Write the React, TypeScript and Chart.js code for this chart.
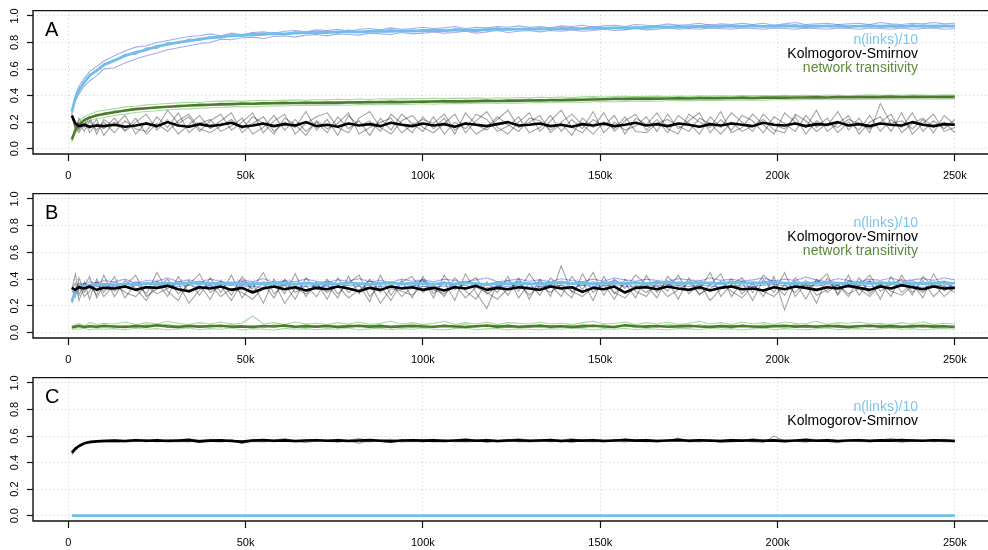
import React, { useEffect, useRef } from 'react';
import { Chart, registerables } from 'chart.js';

Chart.register(...registerables);

// ---------- shared sample steps ----------
const X = [
  1000, 2000, 3000, 4500, 6000, 8000, 10000,
  13000, 16000, 19000, 22000, 25000, 28000, 31000, 34000, 37000, 40000,
  43000, 46000, 49000, 52000, 55000, 58000, 61000, 64000, 67000, 70000,
  73000, 76000, 79000, 82000, 85000, 88000, 91000, 94000, 97000, 100000,
  103000, 106000, 109000, 112000, 115000, 118000, 121000, 124000, 127000, 130000,
  133000, 136000, 139000, 142000, 145000, 148000, 151000, 154000, 157000, 160000,
  163000, 166000, 169000, 172000, 175000, 178000, 181000, 184000, 187000, 190000,
  193000, 196000, 199000, 202000, 205000, 208000, 211000, 214000, 217000, 220000,
  223000, 226000, 229000, 232000, 235000, 238000, 241000, 244000, 247000, 250000,
];

const X_TICKS = [0, 50000, 100000, 150000, 200000, 250000];
const X_TICK_LABELS = ['0', '50k', '100k', '150k', '200k', '250k'];
const Y_TICKS = [0, 0.2, 0.4, 0.6, 0.8, 1.0];
const X_MIN = -9955;
const X_MAX = 259360;
const Y_MIN = -0.04;
const Y_MAX = 1.04;

const LABEL_LINKS = 'n(links)/10';
const LABEL_KS = 'Kolmogorov-Smirnov';
const LABEL_TRANS = 'network transitivity';

// ---------- panel A ----------
const A_LINKS = [
  0.28, 0.38, 0.44, 0.50, 0.55, 0.59, 0.63,
  0.665, 0.70, 0.725, 0.745, 0.77, 0.785, 0.80, 0.812, 0.825, 0.835,
  0.842, 0.85, 0.853, 0.858, 0.862, 0.866, 0.864, 0.87, 0.874, 0.877,
  0.875, 0.88, 0.882, 0.879, 0.884, 0.886, 0.884, 0.888, 0.886, 0.89,
  0.892, 0.889, 0.893, 0.895, 0.893, 0.897, 0.9, 0.898, 0.9, 0.902,
  0.9, 0.904, 0.902, 0.906, 0.905, 0.908, 0.906, 0.91, 0.912, 0.91,
  0.914, 0.916, 0.918, 0.916, 0.92, 0.922, 0.918, 0.921, 0.924, 0.922,
  0.925, 0.921, 0.923, 0.926, 0.922, 0.924, 0.921, 0.925, 0.923, 0.92,
  0.923, 0.925, 0.922, 0.924, 0.921, 0.923, 0.925, 0.922, 0.924, 0.923,
];
const A_LINKS_R1 = [
  0.27, 0.40, 0.47, 0.53, 0.58, 0.62, 0.66,
  0.70, 0.735, 0.765, 0.775, 0.80, 0.815, 0.83, 0.845, 0.85, 0.865,
  0.85, 0.87, 0.86, 0.875, 0.88, 0.87, 0.885, 0.89, 0.88, 0.895,
  0.89, 0.9, 0.885, 0.9, 0.905, 0.895, 0.91, 0.9, 0.905, 0.915,
  0.905, 0.91, 0.92, 0.905, 0.915, 0.91, 0.92, 0.915, 0.925, 0.915,
  0.92, 0.91, 0.925, 0.92, 0.93, 0.915, 0.925, 0.93, 0.92, 0.935,
  0.93, 0.925, 0.94, 0.93, 0.935, 0.945, 0.93, 0.94, 0.935, 0.945,
  0.935, 0.945, 0.93, 0.94, 0.95, 0.935, 0.94, 0.945, 0.935, 0.94,
  0.945, 0.935, 0.95, 0.94, 0.935, 0.945, 0.94, 0.95, 0.94, 0.945,
];
const A_LINKS_R2 = [
  0.29, 0.36, 0.41, 0.47, 0.51, 0.55, 0.60,
  0.61, 0.645, 0.675, 0.70, 0.72, 0.745, 0.76, 0.775, 0.79, 0.80,
  0.825, 0.82, 0.835, 0.84, 0.83, 0.845, 0.85, 0.84, 0.855, 0.86,
  0.85, 0.865, 0.86, 0.855, 0.87, 0.865, 0.86, 0.875, 0.865, 0.87,
  0.88, 0.87, 0.875, 0.885, 0.87, 0.88, 0.89, 0.875, 0.885, 0.89,
  0.88, 0.89, 0.885, 0.895, 0.885, 0.89, 0.9, 0.89, 0.895, 0.905,
  0.895, 0.9, 0.91, 0.9, 0.905, 0.9, 0.91, 0.905, 0.9, 0.91,
  0.905, 0.9, 0.91, 0.905, 0.9, 0.91, 0.905, 0.9, 0.91, 0.905,
  0.9, 0.91, 0.905, 0.9, 0.91, 0.9, 0.905, 0.91, 0.9, 0.905,
];
const A_LINKS_R3 = [
  0.26, 0.39, 0.45, 0.49, 0.56, 0.58, 0.64,
  0.66, 0.71, 0.71, 0.76, 0.755, 0.80, 0.79, 0.825, 0.815, 0.845,
  0.835, 0.86, 0.845, 0.87, 0.855, 0.875, 0.86, 0.88, 0.87, 0.865,
  0.885, 0.87, 0.895, 0.875, 0.89, 0.88, 0.9, 0.885, 0.895, 0.88,
  0.9, 0.885, 0.905, 0.895, 0.88, 0.9, 0.91, 0.895, 0.905, 0.9,
  0.91, 0.895, 0.915, 0.905, 0.9, 0.92, 0.905, 0.915, 0.9, 0.92,
  0.91, 0.925, 0.915, 0.93, 0.91, 0.925, 0.935, 0.915, 0.93, 0.92,
  0.935, 0.915, 0.93, 0.92, 0.935, 0.91, 0.93, 0.92, 0.935, 0.915,
  0.925, 0.935, 0.915, 0.93, 0.92, 0.935, 0.915, 0.93, 0.925, 0.93,
];
const A_TRANS = [
  0.07, 0.14, 0.18, 0.215, 0.235, 0.25, 0.262,
  0.275, 0.288, 0.298, 0.305, 0.31, 0.316, 0.32, 0.325, 0.328, 0.331,
  0.334, 0.336, 0.338, 0.339, 0.341, 0.342, 0.343, 0.344, 0.345, 0.346,
  0.345, 0.347, 0.348, 0.349, 0.35, 0.351, 0.352, 0.351, 0.353, 0.354,
  0.355, 0.356, 0.357, 0.356, 0.358, 0.36, 0.359, 0.361, 0.362, 0.363,
  0.364, 0.365, 0.366, 0.367, 0.369, 0.37, 0.372, 0.374, 0.375, 0.376,
  0.377, 0.376, 0.378, 0.379, 0.378, 0.38, 0.381, 0.38, 0.382, 0.383,
  0.382, 0.384, 0.385, 0.384, 0.386, 0.385, 0.387, 0.386, 0.388, 0.387,
  0.388, 0.389, 0.388, 0.39, 0.389, 0.391, 0.39, 0.389, 0.391, 0.39,
];
const A_TRANS_R1 = [
  0.05, 0.16, 0.21, 0.24, 0.26, 0.28, 0.29,
  0.30, 0.315, 0.32, 0.33, 0.335, 0.34, 0.345, 0.35, 0.348, 0.355,
  0.358, 0.36, 0.356, 0.362, 0.365, 0.36, 0.366, 0.368, 0.364, 0.37,
  0.368, 0.372, 0.37, 0.374, 0.371, 0.376, 0.373, 0.377, 0.375, 0.378,
  0.38, 0.377, 0.381, 0.379, 0.383, 0.38, 0.384, 0.382, 0.386, 0.383,
  0.387, 0.385, 0.389, 0.386, 0.39, 0.392, 0.388, 0.393, 0.395, 0.391,
  0.394, 0.396, 0.393, 0.397, 0.395, 0.398, 0.396, 0.399, 0.397, 0.4,
  0.398, 0.401, 0.399, 0.402, 0.4, 0.403, 0.401, 0.404, 0.402, 0.401,
  0.403, 0.405, 0.402, 0.404, 0.403, 0.406, 0.404, 0.402, 0.405, 0.404,
];
const A_TRANS_R2 = [
  0.09, 0.12, 0.15, 0.19, 0.21, 0.225, 0.235,
  0.25, 0.26, 0.272, 0.28, 0.286, 0.293, 0.297, 0.3, 0.305, 0.309,
  0.312, 0.315, 0.318, 0.316, 0.32, 0.323, 0.321, 0.325, 0.327, 0.325,
  0.328, 0.33, 0.327, 0.332, 0.334, 0.331, 0.335, 0.333, 0.336, 0.338,
  0.336, 0.339, 0.341, 0.338, 0.342, 0.344, 0.341, 0.345, 0.343, 0.346,
  0.348, 0.346, 0.35, 0.352, 0.349, 0.353, 0.355, 0.352, 0.356, 0.358,
  0.36, 0.357, 0.361, 0.363, 0.36, 0.364, 0.366, 0.363, 0.367, 0.365,
  0.368, 0.366, 0.369, 0.371, 0.368, 0.37, 0.372, 0.369, 0.371, 0.373,
  0.371, 0.374, 0.372, 0.375, 0.373, 0.376, 0.374, 0.372, 0.375, 0.374,
];
const A_TRANS_R3 = [
  0.06, 0.15, 0.17, 0.22, 0.23, 0.26, 0.255,
  0.285, 0.28, 0.305, 0.3, 0.32, 0.31, 0.33, 0.322, 0.338, 0.33,
  0.345, 0.333, 0.35, 0.34, 0.352, 0.345, 0.355, 0.34, 0.353, 0.348,
  0.356, 0.345, 0.358, 0.352, 0.36, 0.348, 0.362, 0.355, 0.35, 0.364,
  0.358, 0.366, 0.352, 0.368, 0.36, 0.37, 0.356, 0.372, 0.365, 0.374,
  0.362, 0.376, 0.37, 0.38, 0.372, 0.384, 0.376, 0.386, 0.38, 0.39,
  0.382, 0.388, 0.376, 0.39, 0.385, 0.393, 0.38, 0.392, 0.386, 0.395,
  0.384, 0.394, 0.388, 0.396, 0.382, 0.392, 0.398, 0.386, 0.395, 0.39,
  0.397, 0.385, 0.394, 0.4, 0.388, 0.396, 0.391, 0.398, 0.387, 0.395,
];
const A_KS = [
  0.25, 0.19, 0.17, 0.18, 0.165, 0.175, 0.17,
  0.18, 0.165, 0.175, 0.19, 0.17, 0.2, 0.175, 0.165, 0.185, 0.17,
  0.18, 0.195, 0.165, 0.175, 0.19, 0.17, 0.185, 0.175, 0.2, 0.17,
  0.18, 0.165, 0.19, 0.175, 0.185, 0.17, 0.195, 0.18, 0.17, 0.19,
  0.175, 0.185, 0.165, 0.19, 0.18, 0.17, 0.185, 0.2, 0.175, 0.18,
  0.19, 0.17, 0.18, 0.165, 0.185, 0.175, 0.19, 0.17, 0.18, 0.195,
  0.175, 0.185, 0.17, 0.19, 0.18, 0.165, 0.185, 0.175, 0.19, 0.18,
  0.17, 0.195, 0.18, 0.175, 0.19, 0.17, 0.185, 0.18, 0.2, 0.175,
  0.185, 0.17, 0.19, 0.18, 0.175, 0.2, 0.18, 0.17, 0.185, 0.18,
];
const A_KS_R1 = [
  0.24, 0.2, 0.14, 0.22, 0.12, 0.19, 0.15,
  0.23, 0.13, 0.2, 0.26, 0.14, 0.22, 0.11, 0.18, 0.25, 0.15,
  0.21, 0.27, 0.12, 0.19, 0.24, 0.13, 0.2, 0.16, 0.28, 0.14,
  0.22, 0.1, 0.25, 0.17, 0.21, 0.13, 0.26, 0.19, 0.12, 0.24,
  0.15, 0.23, 0.11, 0.27, 0.18, 0.14, 0.22, 0.29, 0.16, 0.2,
  0.25, 0.12, 0.19, 0.1, 0.23, 0.16, 0.27, 0.13, 0.21, 0.26,
  0.14, 0.22, 0.12, 0.25, 0.19, 0.11, 0.24, 0.16, 0.27, 0.2,
  0.13, 0.26, 0.18, 0.15, 0.24, 0.11, 0.21, 0.17, 0.28, 0.14,
  0.23, 0.12, 0.34, 0.19, 0.21, 0.15, 0.22, 0.12, 0.25, 0.18,
];
const A_KS_R2 = [
  0.26, 0.17, 0.2, 0.13, 0.21, 0.14, 0.2,
  0.12, 0.21, 0.15, 0.13, 0.24, 0.16, 0.27, 0.12, 0.19, 0.22,
  0.13, 0.17, 0.23, 0.11, 0.16, 0.25, 0.14, 0.22, 0.13, 0.2,
  0.12, 0.24, 0.15, 0.21, 0.1, 0.23, 0.14, 0.26, 0.19, 0.13,
  0.24, 0.11, 0.2, 0.15, 0.26, 0.22, 0.13, 0.17, 0.24, 0.12,
  0.16, 0.25, 0.13, 0.22, 0.15, 0.28, 0.12, 0.2, 0.14, 0.17,
  0.24, 0.13, 0.26, 0.15, 0.21, 0.27, 0.12, 0.22, 0.14, 0.25,
  0.21, 0.12, 0.24, 0.19, 0.13, 0.25, 0.16, 0.23, 0.12, 0.2,
  0.14, 0.25, 0.13, 0.22, 0.16, 0.27, 0.13, 0.21, 0.15, 0.22,
];
const A_KS_R3 = [
  0.25, 0.14, 0.23, 0.16, 0.24, 0.11, 0.22,
  0.17, 0.25, 0.11, 0.2, 0.16, 0.29, 0.19, 0.24, 0.13, 0.21,
  0.26, 0.14, 0.2, 0.27, 0.12, 0.21, 0.26, 0.11, 0.19, 0.24,
  0.27, 0.16, 0.12, 0.23, 0.28, 0.16, 0.11, 0.21, 0.25, 0.16,
  0.12, 0.19, 0.26, 0.12, 0.21, 0.28, 0.16, 0.11, 0.2, 0.27,
  0.13, 0.21, 0.29, 0.16, 0.12, 0.22, 0.17, 0.25, 0.11, 0.23,
  0.18, 0.27, 0.15, 0.11, 0.26, 0.2, 0.16, 0.28, 0.12, 0.16,
  0.26, 0.18, 0.11, 0.27, 0.2, 0.16, 0.29, 0.13, 0.19, 0.25,
  0.11, 0.2, 0.24, 0.13, 0.27, 0.11, 0.19, 0.26, 0.13, 0.16,
];
const A_KS_R4 = [
  0.23, 0.16, 0.12, 0.19, 0.15, 0.22, 0.1,
  0.2, 0.14, 0.23, 0.11, 0.19, 0.13, 0.21, 0.26, 0.15, 0.12,
  0.17, 0.22, 0.15, 0.24, 0.19, 0.11, 0.23, 0.18, 0.1, 0.21,
  0.15, 0.19, 0.27, 0.11, 0.16, 0.2, 0.23, 0.12, 0.18, 0.22,
  0.19, 0.26, 0.14, 0.2, 0.11, 0.16, 0.24, 0.18, 0.13, 0.23,
  0.21, 0.14, 0.2, 0.26, 0.18, 0.11, 0.2, 0.15, 0.24, 0.13,
  0.12, 0.19, 0.22, 0.17, 0.13, 0.23, 0.19, 0.11, 0.2, 0.13,
  0.17, 0.22, 0.14, 0.12, 0.26, 0.21, 0.13, 0.19, 0.16, 0.22,
  0.19, 0.15, 0.2, 0.26, 0.12, 0.19, 0.23, 0.16, 0.2, 0.12,
];

// ---------- panel B ----------
const B_LINKS = [
  0.235, 0.31, 0.34, 0.35, 0.355, 0.36, 0.362,
  0.358, 0.365, 0.36, 0.368, 0.362, 0.37, 0.365, 0.372, 0.366, 0.37,
  0.365, 0.372, 0.36, 0.368, 0.363, 0.37, 0.366, 0.362, 0.371, 0.365,
  0.369, 0.363, 0.372, 0.366, 0.36, 0.368, 0.372, 0.364, 0.37, 0.366,
  0.362, 0.37, 0.365, 0.373, 0.366, 0.36, 0.369, 0.364, 0.371, 0.367,
  0.363, 0.37, 0.375, 0.366, 0.372, 0.364, 0.37, 0.374, 0.368, 0.373,
  0.366, 0.372, 0.376, 0.369, 0.374, 0.368, 0.372, 0.366, 0.375, 0.37,
  0.374, 0.368, 0.377, 0.371, 0.366, 0.373, 0.369, 0.376, 0.37, 0.365,
  0.372, 0.367, 0.374, 0.369, 0.365, 0.371, 0.366, 0.373, 0.368, 0.37,
];
const B_LINKS_R1 = [
  0.24, 0.33, 0.37, 0.36, 0.38, 0.37, 0.39,
  0.38, 0.4, 0.37, 0.39, 0.385, 0.41, 0.38, 0.395, 0.375, 0.4,
  0.385, 0.37, 0.395, 0.38, 0.405, 0.375, 0.39, 0.38, 0.4, 0.385,
  0.375, 0.395, 0.385, 0.405, 0.38, 0.39, 0.375, 0.4, 0.385, 0.395,
  0.38, 0.4, 0.39, 0.375, 0.395, 0.41, 0.38, 0.39, 0.4, 0.385,
  0.395, 0.38, 0.405, 0.39, 0.38, 0.4, 0.385, 0.41, 0.395, 0.385,
  0.4, 0.39, 0.38, 0.405, 0.395, 0.385, 0.41, 0.39, 0.4, 0.385,
  0.395, 0.41, 0.385, 0.4, 0.39, 0.415, 0.395, 0.38, 0.405, 0.39,
  0.38, 0.4, 0.39, 0.41, 0.385, 0.395, 0.405, 0.39, 0.41, 0.395,
];
const B_LINKS_R2 = [
  0.23, 0.29, 0.32, 0.34, 0.33, 0.345, 0.34,
  0.35, 0.34, 0.355, 0.345, 0.335, 0.35, 0.345, 0.355, 0.34, 0.35,
  0.345, 0.355, 0.34, 0.35, 0.335, 0.345, 0.355, 0.34, 0.35, 0.345,
  0.35, 0.34, 0.355, 0.345, 0.335, 0.35, 0.345, 0.34, 0.355, 0.345,
  0.34, 0.35, 0.345, 0.355, 0.34, 0.335, 0.35, 0.345, 0.355, 0.34,
  0.345, 0.355, 0.35, 0.34, 0.355, 0.345, 0.35, 0.36, 0.345, 0.35,
  0.355, 0.345, 0.36, 0.35, 0.345, 0.355, 0.35, 0.34, 0.355, 0.35,
  0.345, 0.355, 0.36, 0.35, 0.345, 0.355, 0.35, 0.36, 0.345, 0.34,
  0.355, 0.345, 0.35, 0.36, 0.345, 0.35, 0.34, 0.355, 0.35, 0.345,
];
const B_LINKS_R3 = [
  0.22, 0.32, 0.35, 0.37, 0.35, 0.375, 0.355,
  0.375, 0.355, 0.38, 0.36, 0.385, 0.355, 0.38, 0.36, 0.385, 0.365,
  0.38, 0.355, 0.385, 0.36, 0.38, 0.365, 0.385, 0.355, 0.375, 0.36,
  0.385, 0.36, 0.375, 0.355, 0.385, 0.365, 0.38, 0.36, 0.375, 0.385,
  0.36, 0.38, 0.355, 0.385, 0.37, 0.355, 0.38, 0.365, 0.385, 0.36,
  0.38, 0.36, 0.385, 0.37, 0.355, 0.38, 0.365, 0.39, 0.36, 0.38,
  0.365, 0.385, 0.36, 0.38, 0.37, 0.39, 0.36, 0.38, 0.365, 0.385,
  0.36, 0.38, 0.39, 0.365, 0.38, 0.36, 0.385, 0.37, 0.355, 0.38,
  0.37, 0.385, 0.36, 0.38, 0.365, 0.39, 0.36, 0.375, 0.385, 0.365,
];
const B_KS = [
  0.335, 0.32, 0.34, 0.33, 0.345, 0.32, 0.335,
  0.33, 0.345, 0.32, 0.34, 0.335, 0.35, 0.325, 0.31, 0.34, 0.33,
  0.345, 0.32, 0.335, 0.3, 0.33, 0.345, 0.325, 0.34, 0.315, 0.335,
  0.325, 0.345, 0.33, 0.31, 0.335, 0.32, 0.345, 0.33, 0.34, 0.32,
  0.335, 0.315, 0.34, 0.33, 0.35, 0.32, 0.335, 0.325, 0.34, 0.33,
  0.32, 0.345, 0.33, 0.34, 0.305, 0.335, 0.325, 0.345, 0.3, 0.335,
  0.34, 0.325, 0.345, 0.33, 0.32, 0.34, 0.315, 0.335, 0.345, 0.325,
  0.33, 0.315, 0.34, 0.325, 0.345, 0.335, 0.32, 0.34, 0.33, 0.35,
  0.335, 0.32, 0.345, 0.33, 0.355, 0.34, 0.325, 0.345, 0.33, 0.335,
];
const B_KS_R1 = [
  0.32, 0.44, 0.28, 0.38, 0.25, 0.4, 0.3,
  0.42, 0.26, 0.37, 0.29, 0.45, 0.31, 0.24, 0.39, 0.28, 0.41,
  0.3, 0.43, 0.26, 0.37, 0.22, 0.4, 0.29, 0.44, 0.27, 0.38,
  0.25, 0.41, 0.3, 0.36, 0.23, 0.43, 0.28, 0.39, 0.26, 0.42,
  0.29, 0.38, 0.24, 0.44, 0.3, 0.18, 0.37, 0.28, 0.41, 0.25,
  0.4, 0.27, 0.5, 0.3, 0.38, 0.24, 0.42, 0.29, 0.37, 0.26,
  0.43, 0.3, 0.39, 0.25, 0.41, 0.28, 0.36, 0.44, 0.27, 0.38,
  0.24, 0.4, 0.3, 0.45, 0.27, 0.37, 0.22, 0.41, 0.29, 0.43,
  0.28, 0.39, 0.25, 0.42, 0.3, 0.37, 0.26, 0.44, 0.31, 0.38,
];
const B_KS_R2 = [
  0.34, 0.27, 0.41, 0.3, 0.36, 0.28, 0.43,
  0.27, 0.39, 0.33, 0.24, 0.38, 0.27, 0.42, 0.3, 0.36, 0.25,
  0.39, 0.28, 0.42, 0.31, 0.37, 0.26, 0.4, 0.3, 0.35, 0.27,
  0.4, 0.29, 0.37, 0.43, 0.27, 0.35, 0.24, 0.38, 0.42, 0.3,
  0.36, 0.27, 0.41, 0.31, 0.25, 0.38, 0.3, 0.42, 0.26, 0.37,
  0.28, 0.41, 0.33, 0.26, 0.44, 0.3, 0.36, 0.25, 0.4, 0.31,
  0.27, 0.38, 0.31, 0.43, 0.29, 0.37, 0.24, 0.33, 0.4, 0.29,
  0.37, 0.27, 0.42, 0.17, 0.38, 0.25, 0.4, 0.3, 0.36, 0.27,
  0.41, 0.29, 0.37, 0.27, 0.43, 0.3, 0.39, 0.27, 0.35, 0.3,
];
const B_KS_R3 = [
  0.33, 0.37, 0.24, 0.35, 0.42, 0.26, 0.36,
  0.31, 0.35, 0.43, 0.27, 0.33, 0.4, 0.29, 0.36, 0.44, 0.3,
  0.35, 0.24, 0.38, 0.33, 0.45, 0.29, 0.36, 0.25, 0.41, 0.32,
  0.36, 0.26, 0.42, 0.29, 0.4, 0.3, 0.37, 0.27, 0.34, 0.4,
  0.26, 0.43, 0.32, 0.37, 0.41, 0.29, 0.34, 0.39, 0.31, 0.44,
  0.33, 0.36, 0.27, 0.42, 0.32, 0.45, 0.28, 0.4, 0.33, 0.43,
  0.36, 0.26, 0.42, 0.35, 0.38, 0.32, 0.45, 0.27, 0.36, 0.41,
  0.3, 0.43, 0.36, 0.28, 0.41, 0.33, 0.37, 0.44, 0.28, 0.39,
  0.35, 0.43, 0.31, 0.36, 0.4, 0.28, 0.42, 0.34, 0.38, 0.33,
];
const B_KS_R4 = [
  0.31, 0.29, 0.36, 0.27, 0.31, 0.38, 0.27,
  0.36, 0.3, 0.27, 0.35, 0.29, 0.33, 0.37, 0.22, 0.32, 0.36,
  0.27, 0.33, 0.3, 0.25, 0.34, 0.38, 0.22, 0.33, 0.29, 0.36,
  0.3, 0.35, 0.26, 0.32, 0.37, 0.22, 0.33, 0.31, 0.28, 0.35,
  0.32, 0.29, 0.36, 0.26, 0.34, 0.3, 0.25, 0.33, 0.37, 0.28,
  0.35, 0.3, 0.36, 0.31, 0.27, 0.34, 0.38, 0.3, 0.26, 0.35,
  0.3, 0.36, 0.27, 0.32, 0.37, 0.29, 0.33, 0.38, 0.31, 0.26,
  0.35, 0.31, 0.27, 0.36, 0.3, 0.39, 0.28, 0.32, 0.36, 0.29,
  0.33, 0.27, 0.36, 0.31, 0.28, 0.35, 0.3, 0.37, 0.27, 0.34,
];
const B_TRANS = [
  0.04, 0.045, 0.05, 0.042, 0.048, 0.044, 0.05,
  0.046, 0.042, 0.05, 0.045, 0.055, 0.047, 0.043, 0.05, 0.045, 0.048,
  0.052, 0.044, 0.047, 0.042, 0.05, 0.046, 0.053, 0.044, 0.048, 0.045,
  0.05, 0.043, 0.047, 0.052, 0.045, 0.049, 0.043, 0.047, 0.051, 0.046,
  0.044, 0.05, 0.046, 0.042, 0.048, 0.053, 0.045, 0.049, 0.044, 0.047,
  0.051, 0.045, 0.048, 0.043, 0.047, 0.052, 0.046, 0.042, 0.055, 0.048,
  0.045, 0.05, 0.044, 0.047, 0.052, 0.046, 0.043, 0.049, 0.045, 0.05,
  0.046, 0.043, 0.048, 0.052, 0.045, 0.049, 0.044, 0.05, 0.047, 0.043,
  0.048, 0.052, 0.045, 0.049, 0.044, 0.047, 0.051, 0.045, 0.048, 0.042,
];
const B_TRANS_R1 = [
  0.03, 0.06, 0.07, 0.05, 0.075, 0.06, 0.07,
  0.065, 0.08, 0.06, 0.075, 0.065, 0.085, 0.07, 0.06, 0.075, 0.065,
  0.08, 0.065, 0.07, 0.125, 0.065, 0.075, 0.06, 0.08, 0.065, 0.07,
  0.06, 0.075, 0.065, 0.08, 0.06, 0.07, 0.085, 0.065, 0.075, 0.06,
  0.07, 0.085, 0.06, 0.075, 0.065, 0.08, 0.06, 0.075, 0.07, 0.065,
  0.08, 0.065, 0.07, 0.06, 0.075, 0.085, 0.065, 0.07, 0.08, 0.06,
  0.075, 0.065, 0.08, 0.06, 0.07, 0.085, 0.065, 0.075, 0.06, 0.08,
  0.065, 0.075, 0.06, 0.08, 0.07, 0.065, 0.085, 0.06, 0.075, 0.07,
  0.08, 0.065, 0.07, 0.06, 0.075, 0.065, 0.08, 0.06, 0.07, 0.065,
];
const B_TRANS_R2 = [
  0.02, 0.03, 0.025, 0.035, 0.02, 0.03, 0.025,
  0.03, 0.02, 0.035, 0.025, 0.03, 0.02, 0.028, 0.035, 0.022, 0.03,
  0.025, 0.035, 0.02, 0.03, 0.025, 0.018, 0.032, 0.025, 0.03, 0.022,
  0.03, 0.025, 0.035, 0.02, 0.028, 0.032, 0.022, 0.03, 0.025, 0.035,
  0.025, 0.02, 0.03, 0.035, 0.022, 0.028, 0.032, 0.02, 0.03, 0.025,
  0.02, 0.03, 0.025, 0.035, 0.028, 0.02, 0.03, 0.025, 0.032, 0.022,
  0.03, 0.025, 0.02, 0.032, 0.028, 0.022, 0.035, 0.025, 0.03, 0.02,
  0.028, 0.035, 0.022, 0.03, 0.025, 0.02, 0.03, 0.035, 0.022, 0.028,
  0.03, 0.022, 0.028, 0.035, 0.025, 0.03, 0.02, 0.028, 0.032, 0.025,
];
const B_TRANS_R3 = [
  0.05, 0.04, 0.06, 0.035, 0.055, 0.04, 0.06,
  0.04, 0.055, 0.035, 0.06, 0.045, 0.065, 0.04, 0.055, 0.035, 0.06,
  0.045, 0.06, 0.04, 0.055, 0.035, 0.06, 0.045, 0.035, 0.065, 0.04,
  0.055, 0.035, 0.06, 0.045, 0.04, 0.065, 0.035, 0.055, 0.04, 0.06,
  0.035, 0.06, 0.045, 0.065, 0.04, 0.055, 0.035, 0.06, 0.045, 0.04,
  0.06, 0.04, 0.055, 0.035, 0.065, 0.045, 0.06, 0.04, 0.055, 0.035,
  0.055, 0.04, 0.065, 0.045, 0.035, 0.06, 0.045, 0.055, 0.035, 0.06,
  0.04, 0.06, 0.045, 0.035, 0.065, 0.04, 0.055, 0.045, 0.06, 0.035,
  0.055, 0.04, 0.06, 0.045, 0.035, 0.06, 0.04, 0.055, 0.045, 0.05,
];

// ---------- panel C ----------
const C_KS = [
  0.475, 0.505, 0.525, 0.545, 0.555, 0.56, 0.562,
  0.565, 0.563, 0.568, 0.564, 0.567, 0.562, 0.566, 0.569, 0.56, 0.565,
  0.567, 0.563, 0.558, 0.566, 0.569, 0.564, 0.567, 0.563, 0.566, 0.568,
  0.564, 0.567, 0.562, 0.566, 0.569, 0.564, 0.56, 0.566, 0.568, 0.565,
  0.567, 0.563, 0.566, 0.569, 0.564, 0.567, 0.562, 0.566, 0.568, 0.564,
  0.566, 0.569, 0.563, 0.567, 0.565, 0.568, 0.563, 0.566, 0.57, 0.565,
  0.567, 0.563, 0.566, 0.569, 0.564, 0.568, 0.565, 0.562, 0.567, 0.565,
  0.568, 0.564, 0.567, 0.561, 0.566, 0.569, 0.564, 0.567, 0.563, 0.566,
  0.568, 0.564, 0.567, 0.565, 0.569, 0.566, 0.564, 0.568, 0.566, 0.563,
];
const C_KS_R1 = [
  0.46, 0.49, 0.52, 0.54, 0.545, 0.555, 0.56,
  0.555, 0.56, 0.57, 0.555, 0.575, 0.56, 0.555, 0.565, 0.55, 0.57,
  0.56, 0.575, 0.545, 0.56, 0.57, 0.555, 0.575, 0.56, 0.55, 0.565,
  0.57, 0.555, 0.565, 0.545, 0.57, 0.56, 0.55, 0.575, 0.56, 0.555,
  0.565, 0.575, 0.555, 0.56, 0.57, 0.55, 0.565, 0.575, 0.555, 0.56,
  0.575, 0.555, 0.565, 0.55, 0.57, 0.56, 0.555, 0.575, 0.56, 0.565,
  0.555, 0.57, 0.56, 0.585, 0.555, 0.565, 0.57, 0.55, 0.56, 0.57,
  0.56, 0.55, 0.6, 0.56, 0.565, 0.555, 0.57, 0.56, 0.55, 0.565,
  0.57, 0.555, 0.565, 0.575, 0.555, 0.56, 0.57, 0.555, 0.565, 0.555,
];
const C_KS_R2 = [
  0.49, 0.5, 0.53, 0.55, 0.56, 0.565, 0.57,
  0.57, 0.565, 0.575, 0.57, 0.56, 0.575, 0.57, 0.58, 0.565, 0.575,
  0.57, 0.56, 0.545, 0.575, 0.565, 0.57, 0.58, 0.565, 0.57, 0.575,
  0.565, 0.575, 0.57, 0.58, 0.565, 0.57, 0.575, 0.56, 0.575, 0.57,
  0.575, 0.565, 0.57, 0.58, 0.57, 0.575, 0.565, 0.57, 0.58, 0.57,
  0.565, 0.575, 0.57, 0.58, 0.565, 0.575, 0.57, 0.565, 0.58, 0.57,
  0.575, 0.565, 0.57, 0.58, 0.57, 0.575, 0.565, 0.57, 0.575, 0.565,
  0.58, 0.57, 0.575, 0.565, 0.57, 0.58, 0.57, 0.575, 0.565, 0.57,
  0.575, 0.565, 0.57, 0.58, 0.57, 0.575, 0.565, 0.57, 0.575, 0.57,
];
const C_KS_R3 = [
  0.47, 0.51, 0.52, 0.545, 0.55, 0.56, 0.555,
  0.565, 0.555, 0.56, 0.57, 0.555, 0.565, 0.56, 0.555, 0.57, 0.56,
  0.555, 0.565, 0.55, 0.56, 0.555, 0.565, 0.56, 0.555, 0.565, 0.57,
  0.56, 0.555, 0.565, 0.56, 0.555, 0.565, 0.57, 0.555, 0.56, 0.565,
  0.555, 0.56, 0.565, 0.555, 0.56, 0.57, 0.555, 0.56, 0.565, 0.555,
  0.56, 0.565, 0.555, 0.57, 0.56, 0.555, 0.565, 0.56, 0.555, 0.565,
  0.56, 0.555, 0.565, 0.57, 0.56, 0.555, 0.565, 0.56, 0.555, 0.565,
  0.555, 0.565, 0.56, 0.575, 0.56, 0.555, 0.565, 0.56, 0.555, 0.565,
  0.56, 0.555, 0.565, 0.56, 0.555, 0.565, 0.56, 0.57, 0.555, 0.56,
];
const C_LINKS_X = [1000, 250000];
const C_LINKS = [0, 0];

// ---------- styling ----------
const FONT = "'Liberation Sans', Arial, Helvetica, sans-serif";
const COL_LINKS = '#70bfea';
const COL_LINKS_REP = 'rgba(72, 92, 215, 0.5)';
const COL_KS = '#000000';
const COL_KS_REP = 'rgba(0, 0, 0, 0.36)';
const COL_TRANS = '#4e7b2b';
const COL_TRANS_REP = 'rgba(80, 180, 70, 0.5)';
const COL_LEG_LINKS = '#7cc5ee';
const COL_LEG_TRANS = '#5c8a3b';
const GRID_COLOR = '#cfcfcf';

function pts(xs: number[], ys: number[]) {
  return xs.map((x, i) => ({ x, y: ys[i] }));
}

function mean(label: string, ys: number[], color: string, width = 2.6, xs = X) {
  return {
    label,
    data: pts(xs, ys),
    borderColor: color,
    borderWidth: width,
    pointRadius: 0,
    tension: 0,
    fill: false,
    borderJoinStyle: 'round' as const,
  };
}
function rep(ys: number[], color: string) {
  return {
    label: '',
    data: pts(X, ys),
    borderColor: color,
    borderWidth: 1.1,
    pointRadius: 0,
    tension: 0,
    fill: false,
  };
}

const boxPlugin = {
  id: 'rbox',
  afterDatasetsDraw(chart: any) {
    const { ctx, chartArea: a } = chart;
    ctx.save();
    ctx.strokeStyle = '#111';
    ctx.lineWidth = 1.4;
    ctx.beginPath();
    ctx.moveTo(a.right + 2, a.top);
    ctx.lineTo(a.left, a.top);
    ctx.lineTo(a.left, a.bottom);
    ctx.lineTo(a.right + 2, a.bottom);
    ctx.stroke();
    ctx.restore();
  },
};

const decorPlugin = {
  id: 'decor',
  afterDraw(chart: any, _args: any, opts: any) {
    const { ctx, chartArea: a } = chart;
    ctx.save();
    ctx.font = `20px ${FONT}`;
    ctx.fillStyle = '#000';
    ctx.textBaseline = 'middle';
    ctx.textAlign = 'left';
    ctx.fillText(opts.letter, a.left + 12, a.top + 20);
    ctx.font = `14px ${FONT}`;
    ctx.textAlign = 'right';
    (opts.legend || []).forEach((item: any, i: number) => {
      ctx.fillStyle = item.color;
      ctx.fillText(item.text, a.right - 70, a.top + 30 + i * 13.6);
    });
    ctx.restore();
  },
};

function makeOptions(padTop: number, letter: string, legend: any[]) {
  const tickFont = { family: FONT, size: 11 };
  return {
    animation: false,
    responsive: true,
    maintainAspectRatio: false,
    devicePixelRatio: 1,
    events: [],
    layout: { padding: { top: padTop, left: 0, right: 0, bottom: 0 } },
    plugins: {
      legend: { display: false },
      tooltip: { enabled: false },
      decor: { letter, legend },
    },
    scales: {
      x: {
        type: 'linear',
        min: X_MIN,
        max: X_MAX,
        afterBuildTicks: (s: any) => {
          s.ticks = X_TICKS.map((v) => ({ value: v }));
        },
        afterFit: (s: any) => {
          s.height = 29;
        },
        ticks: {
          autoSkip: false,
          minRotation: 0,
          maxRotation: 0,
          padding: 8,
          color: '#000',
          font: tickFont,
          callback: (v: any) => {
            const k = X_TICKS.indexOf(Number(v));
            return k >= 0 ? X_TICK_LABELS[k] : '';
          },
        },
        grid: { color: GRID_COLOR, lineWidth: 1, tickColor: '#111', tickLength: 7, tickWidth: 1.2 },
        border: { display: false, dash: [1, 3] },
      },
      y: {
        type: 'linear',
        min: Y_MIN,
        max: Y_MAX,
        afterBuildTicks: (s: any) => {
          s.ticks = Y_TICKS.map((v) => ({ value: v }));
        },
        afterFit: (s: any) => {
          s.width = 33;
        },
        ticks: {
          minRotation: 90,
          maxRotation: 90,
          crossAlign: 'center',
          padding: 4,
          color: '#000',
          font: tickFont,
          callback: (v: any) => Number(v).toFixed(1),
        },
        grid: { color: GRID_COLOR, lineWidth: 1, tickColor: '#111', tickLength: 6, tickWidth: 1.2 },
        border: { display: false, dash: [1, 3] },
      },
    },
  };
}

type PanelProps = { top: number; height: number; padTop: number; letter: string; datasets: any[]; legend: any[] };

function Panel({ top, height, padTop, letter, datasets, legend }: PanelProps) {
  const ref = useRef<HTMLCanvasElement | null>(null);
  useEffect(() => {
    if (!ref.current) return;
    const chart = new Chart(ref.current, {
      type: 'line',
      data: { datasets },
      options: makeOptions(padTop, letter, legend) as any,
      plugins: [boxPlugin, decorPlugin],
    });
    return () => chart.destroy();
  }, []);
  return (
    <div style={{ position: 'absolute', left: 0, top, width: 988, height }}>
      <canvas ref={ref} />
    </div>
  );
}

const LEGEND_3 = [
  { text: LABEL_LINKS, color: COL_LEG_LINKS },
  { text: LABEL_KS, color: COL_KS },
  { text: LABEL_TRANS, color: COL_LEG_TRANS },
];
const LEGEND_2 = [
  { text: LABEL_LINKS, color: COL_LEG_LINKS },
  { text: LABEL_KS, color: COL_KS },
];

const DATA_A = [
  mean(LABEL_KS, A_KS, COL_KS),
  mean(LABEL_LINKS, A_LINKS, COL_LINKS, 2.8),
  mean(LABEL_TRANS, A_TRANS, COL_TRANS),
  rep(A_KS_R1, COL_KS_REP), rep(A_KS_R2, COL_KS_REP), rep(A_KS_R3, COL_KS_REP), rep(A_KS_R4, COL_KS_REP),
  rep(A_LINKS_R1, COL_LINKS_REP), rep(A_LINKS_R2, COL_LINKS_REP), rep(A_LINKS_R3, COL_LINKS_REP),
  rep(A_TRANS_R1, COL_TRANS_REP), rep(A_TRANS_R2, COL_TRANS_REP), rep(A_TRANS_R3, COL_TRANS_REP),
];
const DATA_B = [
  mean(LABEL_KS, B_KS, COL_KS),
  mean(LABEL_LINKS, B_LINKS, COL_LINKS, 2.8),
  mean(LABEL_TRANS, B_TRANS, COL_TRANS),
  rep(B_KS_R1, COL_KS_REP), rep(B_KS_R2, COL_KS_REP), rep(B_KS_R3, COL_KS_REP), rep(B_KS_R4, COL_KS_REP),
  rep(B_LINKS_R1, COL_LINKS_REP), rep(B_LINKS_R2, COL_LINKS_REP), rep(B_LINKS_R3, COL_LINKS_REP),
  rep(B_TRANS_R1, COL_TRANS_REP), rep(B_TRANS_R2, COL_TRANS_REP), rep(B_TRANS_R3, COL_TRANS_REP),
];
const DATA_C = [
  mean(LABEL_KS, C_KS, COL_KS),
  mean(LABEL_LINKS, C_LINKS, COL_LINKS, 2.8, C_LINKS_X),
  rep(C_KS_R1, COL_KS_REP), rep(C_KS_R2, COL_KS_REP), rep(C_KS_R3, COL_KS_REP),
];

export default function App() {
  return (
    <div style={{ position: 'absolute', left: 0, top: 0, width: 988, height: 550, background: '#fff', overflow: 'hidden' }}>
      <Panel top={0} height={183} padTop={7} letter="A" datasets={DATA_A} legend={LEGEND_3} />
      <Panel top={183} height={184} padTop={6} letter="B" datasets={DATA_B} legend={LEGEND_3} />
      <Panel top={367} height={183} padTop={6} letter="C" datasets={DATA_C} legend={LEGEND_2} />
    </div>
  );
}
